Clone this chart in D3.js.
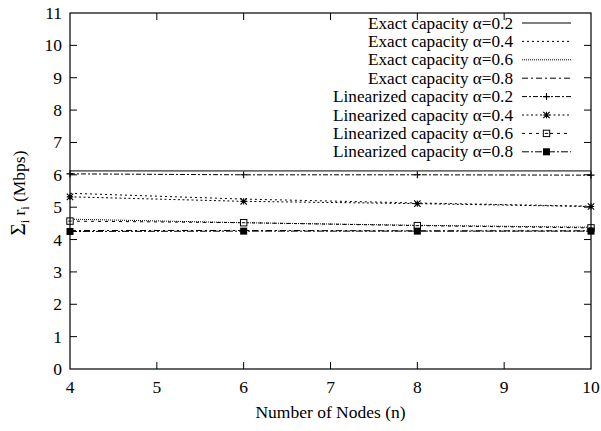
<!DOCTYPE html>
<html><head><meta charset="utf-8">
<script src="https://cdn.jsdelivr.net/npm/d3@7"></script>
<style>body{margin:0;background:#fff}svg{display:block}svg text{font-family:"Liberation Serif","Times New Roman",Times,serif}</style>
</head><body>
<svg id="c" width="601" height="431"></svg>
<script>
const nodes = [4, 6, 8, 10];
const exact02 = [6.12, 6.12, 6.12, 6.12];
const exact04 = [5.43, 5.25, 5.13, 5.03];
const exact06 = [4.63, 4.52, 4.44, 4.38];
const exact08 = [4.28, 4.28, 4.27, 4.27];
const lin02 = [6.03, 6.00, 6.00, 5.99];
const lin04 = [5.32, 5.18, 5.11, 5.02];
const lin06 = [4.57, 4.52, 4.43, 4.36];
const lin08 = [4.25, 4.26, 4.26, 4.26];
const seriesLabels = ["Exact capacity α=0.2","Exact capacity α=0.4","Exact capacity α=0.6","Exact capacity α=0.8",
  "Linearized capacity α=0.2","Linearized capacity α=0.4","Linearized capacity α=0.6","Linearized capacity α=0.8"];
const xTicks = [4,5,6,7,8,9,10];
const yTicks = [0,1,2,3,4,5,6,7,8,9,10,11];

const series = [
  {name: seriesLabels[0], values: exact02, dash: null, marker: null},
  {name: seriesLabels[1], values: exact04, dash: "2,3", marker: null},
  {name: seriesLabels[2], values: exact06, dash: "1,1", marker: null},
  {name: seriesLabels[3], values: exact08, dash: "6,3,2,3", marker: null},
  {name: seriesLabels[4], values: lin02, dash: "5,2,2,2", marker: "plus"},
  {name: seriesLabels[5], values: lin04, dash: "2,2.5", marker: "star"},
  {name: seriesLabels[6], values: lin06, dash: "3,4", marker: "boxo"},
  {name: seriesLabels[7], values: lin08, dash: "7,2,2,2", marker: "boxf"}
];

const svg = d3.select("#c");
const L = 70, R = 591, T = 13, B = 369;
const x = d3.scaleLinear().domain([4,10]).range([L,R]);
const y = d3.scaleLinear().domain([0,11]).range([B,T]);
const fs = 17.5;
const lfs = 16.5;

const tl = 7;
const g = svg.append("g").attr("stroke","#000").attr("stroke-width",1);
yTicks.forEach(v => {
  if (v===0 || v===11) return;
  g.append("line").attr("x1",L).attr("x2",L+tl).attr("y1",y(v)).attr("y2",y(v));
  g.append("line").attr("x1",R).attr("x2",R-tl).attr("y1",y(v)).attr("y2",y(v));
});
xTicks.forEach(v => {
  if (v===4 || v===10) return;
  g.append("line").attr("x1",x(v)).attr("x2",x(v)).attr("y1",B).attr("y2",B-tl);
  g.append("line").attr("x1",x(v)).attr("x2",x(v)).attr("y1",T).attr("y2",T+tl);
});

svg.append("g").selectAll("text").data(yTicks).join("text")
  .attr("x", L-8).attr("y", d => y(d)+6).attr("text-anchor","end")
  .attr("font-size",fs).text(d=>d);
svg.append("g").selectAll("text").data(xTicks).join("text")
  .attr("x", d => x(d)).attr("y", 393).attr("text-anchor","middle")
  .attr("font-size",fs).text(d=>d);

svg.append("text").attr("x",(L+R)/2).attr("y",418).attr("text-anchor","middle")
  .attr("font-size",fs).text("Number of Nodes (n)");
const yl = svg.append("text").attr("transform","translate(25,193) rotate(-90)")
  .attr("text-anchor","middle").attr("font-size",fs);
yl.append("tspan").attr("font-size",21).text("Σ");
yl.append("tspan").attr("font-size",12).attr("dy",4).text("i");
yl.append("tspan").attr("dy",-4).text(" r");
yl.append("tspan").attr("font-size",12).attr("dy",4).text("i");
yl.append("tspan").attr("dy",-4).text(" (Mbps)");

function drawMarker(sel, type, cx, cy) {
  if (type === "plus") {
    const s = 3.5;
    sel.append("path").attr("d",`M${cx-s},${cy}H${cx+s}M${cx},${cy-s}V${cy+s}`)
      .attr("stroke","#000").attr("stroke-width",1.1).attr("fill","none");
  } else if (type === "star") {
    const s = 3.2;
    sel.append("path").attr("d",`M${cx-s},${cy}H${cx+s}M${cx},${cy-s}V${cy+s}M${cx-s},${cy-s}L${cx+s},${cy+s}M${cx-s},${cy+s}L${cx+s},${cy-s}`)
      .attr("stroke","#000").attr("stroke-width",1.1).attr("fill","none");
  } else if (type === "boxo") {
    const s = 3.2;
    sel.append("rect").attr("x",cx-s).attr("y",cy-s).attr("width",2*s).attr("height",2*s)
      .attr("stroke","#000").attr("stroke-width",1).attr("fill","#fff");
    sel.append("line").attr("x1",cx-s+1.5).attr("x2",cx+s-1.5).attr("y1",cy).attr("y2",cy)
      .attr("stroke","#000").attr("stroke-width",1);
  } else if (type === "boxf") {
    const s = 3.5;
    sel.append("rect").attr("x",cx-s).attr("y",cy-s).attr("width",2*s).attr("height",2*s)
      .attr("fill","#000");
  }
}

const line = d3.line().x((d,i)=>x(nodes[i])).y(d=>y(d));
const plot = svg.append("g");
series.forEach(s => {
  plot.append("path").datum(s.values).attr("d",line)
    .attr("fill","none").attr("stroke","#000").attr("stroke-width",1)
    .attr("stroke-dasharray", s.dash);
});
series.forEach(s => {
  if (!s.marker) return;
  s.values.forEach((v,i)=> drawMarker(plot, s.marker, x(nodes[i]), y(v)));
});

const lg = svg.append("g");
series.forEach((s,i) => {
  const ly = 23 + i*18.4;
  lg.append("text").attr("x",513).attr("y",ly+5.5).attr("text-anchor","end")
    .attr("font-size",lfs).attr("textLength", s.name.startsWith("Lin") ? 180 : 145)
    .attr("lengthAdjust","spacingAndGlyphs").text(s.name);
  lg.append("line").attr("x1",522).attr("x2",571).attr("y1",ly).attr("y2",ly)
    .attr("stroke","#000").attr("stroke-width",1).attr("stroke-dasharray",s.dash);
  if (s.marker) drawMarker(lg, s.marker, 546.5, ly);
});

svg.append("rect").attr("x",L).attr("y",T).attr("width",R-L).attr("height",B-T)
  .attr("fill","none").attr("stroke","#000").attr("stroke-width",1.2);
</script>
</body></html>
